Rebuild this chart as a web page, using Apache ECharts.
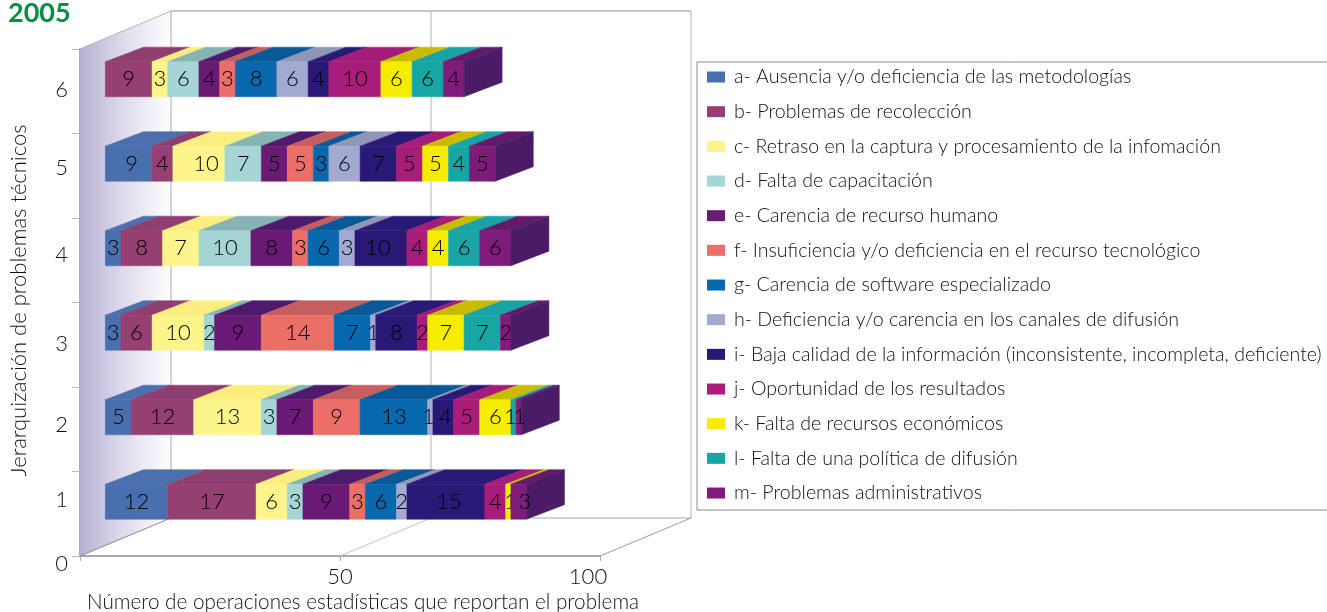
<!DOCTYPE html>
<html>
<head>
<meta charset="utf-8">
<title>Problemas técnicos 2005</title>
<script src="https://cdn.jsdelivr.net/npm/echarts@6/dist/echarts.min.js"></script>
<style>
html, body { margin: 0; padding: 0; background: #fff; }
#main { width: 1327px; height: 612px; }
</style>
</head>
<body>
<div id="main"></div>
<script>
var rows = [1, 2, 3, 4, 5, 6];
var problemas = [
	'a- Ausencia y/o deficiencia de las metodologías',
	'b- Problemas de recolección',
	'c- Retraso en la captura y procesamiento de la infomación',
	'd- Falta de capacitación',
	'e- Carencia de recurso humano',
	'f- Insuficiencia y/o deficiencia en el recurso tecnológico',
	'g- Carencia de software especializado',
	'h- Deficiencia y/o carencia en los canales de difusión',
	'i- Baja calidad de la información (inconsistente, incompleta, deficiente)',
	'j- Oportunidad de los resultados',
	'k- Falta de recursos económicos',
	'l- Falta de una política de difusión',
	'm- Problemas administrativos'
];
// valores por jerarquia 1..6
var serieA = [12, 5, 3, 3, 9, 0];
var serieB = [17, 12, 6, 8, 4, 9];
var serieC = [6, 13, 10, 7, 10, 3];
var serieD = [3, 3, 2, 10, 7, 6];
var serieE = [9, 7, 9, 8, 5, 4];
var serieF = [3, 9, 14, 3, 5, 3];
var serieG = [6, 13, 7, 6, 3, 8];
var serieH = [2, 1, 1, 3, 6, 6];
var serieI = [15, 4, 8, 10, 7, 4];
var serieJ = [4, 5, 2, 4, 5, 10];
var serieK = [1, 6, 7, 4, 5, 6];
var serieL = [0, 1, 7, 6, 4, 6];
var serieM = [3, 1, 2, 6, 5, 4];
var valores = [serieA, serieB, serieC, serieD, serieE, serieF, serieG, serieH, serieI, serieJ, serieK, serieL, serieM];

var xTicks = [0, 50, 100];
var frontColors = ['#4a6fae', '#963f73', '#fdf48b', '#a5d5d5', '#681a75', '#eb6f66', '#0768ae', '#a2aad2', '#2a1877', '#a81d7a', '#f6ec00', '#18a6a4', '#7f1b7b'];
var topColors = ['#4c70ad', '#8f3e70', '#fbee7f', '#87b3b2', '#4e1a6b', '#c45e5f', '#0a5897', '#8f96b8', '#2a1a78', '#a31d79', '#c9bc00', '#19a3a5', '#641a6a'];
var sideColor = '#4a1c68';

var fontName = 'Lato';
var textColor = '#111111';
var wallDx = 91, wallDy = -38;     // fondo de la caja 3d
var barDx = 25.3, barDy = -12;     // la barra no esta pegada al plano frontal
var barH = 35, depthX = 38, depthY = -14.6;
// las etiquetas del eje y no caen en los ticks (0..6)
var yLabelShift = [8, 28, 38, 41, 37, 34, 41];
// serie-jerarquia: etiquetas que en el original no estan centradas
var labelNudge = { '10-1': 2, '12-1': 6, '8-1': 3, '7-2': -2, '8-2': 2, '11-2': -3, '12-2': 1, '8-4': -3, '2-5': 7, '0-5': 3 };

function poly(points, fill) {
	return {
		type: 'polygon',
		silent: true,
		shape: { points: points },
		style: { fill: fill, stroke: fill, lineWidth: 0.5 }
	};
}

function line(a, b, color, w) {
	return {
		type: 'line',
		silent: true,
		shape: { x1: a[0], y1: a[1], x2: b[0], y2: b[1] },
		style: { stroke: color, lineWidth: w || 1 }
	};
}

function back(p) {
	return [p[0] + wallDx, p[1] + wallDy];
}

function renderWalls(params, api) {
	var o = api.coord([0, 0]);
	var t = api.coord([0, 6]);
	var m = api.coord([50, 0]);
	var e = api.coord([100, 0]);
	var grad = new echarts.graphic.LinearGradient(0, 0, 1, 0, [
		{ offset: 0, color: '#b6b0d4' },
		{ offset: 0.45, color: '#dcd9ea' },
		{ offset: 1, color: '#ffffff' }
	]);
	return {
		type: 'group',
		children: [
			poly([o, t, back(t), back(o)], grad),
			line(t, back(t), '#b5b5b5', 1),
			line(back(t), [back(e)[0], back(t)[1]], '#b5b5b5', 1.5),
			line(back(t), back(o), '#a8a8a8', 1),
			line([back(m)[0], back(t)[1]], back(m), '#b5b5b5', 1),
			line([back(e)[0], back(t)[1]], back(e), '#b5b5b5', 1),
			line(back(o), back(e), '#a8a8a8', 1),
			line(o, back(o), '#8a8a8a', 1),
			line(m, back(m), '#c4c4c4', 1),
			line(e, back(e), '#9a9a9a', 1)
		]
	};
}

function makeRenderBar(idx) {
	return function(params, api) {
		var a = api.coord([api.value(0), api.value(2)]);
		var b = api.coord([api.value(1), api.value(2)]);
		var x1 = a[0] + barDx, x2 = b[0] + barDx;
		var yTop = a[1] + barDy - barH / 2, yBot = a[1] + barDy + barH / 2;
		var nudge = labelNudge[idx + '-' + (api.value(2) + 0.5)] || 0;
		var children = [
			poly([[x1, yTop], [x1 + depthX, yTop + depthY], [x2 + depthX, yTop + depthY], [x2, yTop]], topColors[idx]),
			poly([[x1, yTop], [x2, yTop], [x2, yBot], [x1, yBot]], frontColors[idx])
		];
		if (idx === valores.length - 1) {
			children.push(poly([[x2, yTop], [x2 + depthX, yTop + depthY], [x2 + depthX, yBot + depthY], [x2, yBot]], sideColor));
		}
		children.push({
			type: 'text',
			silent: true,
			z2: 100,
			style: {
				x: (x1 + x2) / 2 + nudge,
				y: (yTop + yBot) / 2,
				text: String(api.value(3)),
				fill: '#000000',
				font: '300 22px ' + fontName,
				align: 'center',
				verticalAlign: 'middle'
			}
		});
		return { type: 'group', children: children };
	};
}

var series = [{
	type: 'custom',
	name: 'caja',
	silent: true,
	z: 1,
	renderItem: renderWalls,
	data: [[0, 0]],
	encode: { x: 0, y: 1 }
}];

var acumulado = rows.map(function() { return 0; });
valores.forEach(function(vals, idx) {
	var data = [];
	vals.forEach(function(v, r) {
		if (v > 0) {
			data.push([acumulado[r], acumulado[r] + v, rows[r] - 0.5, v]);
		}
		acumulado[r] += v;
	});
	series.push({
		type: 'custom',
		name: problemas[idx],
		silent: true,
		z: 2 + idx,
		itemStyle: { color: frontColors[idx] },
		renderItem: makeRenderBar(idx),
		data: data,
		encode: { x: [0, 1], y: 2 }
	});
});

var yRich = {};
yLabelShift.forEach(function(d, i) {
	yRich['s' + i] = { fontFamily: fontName, fontWeight: 300, fontSize: 22, color: textColor, padding: [2 * d, 0, 0, 0] };
});

var chart = echarts.init(document.getElementById('main'));
chart.setOption({
	animation: false,
	title: {
		text: '2005',
		left: 8,
		top: 0,
		padding: 0,
		textStyle: { fontFamily: fontName, fontWeight: 'bold', fontSize: 27, color: '#008f45' }
	},
	grid: { left: 80, top: 49, width: 520, height: 507, containLabel: false, outerBoundsMode: 'none' },
	xAxis: {
		type: 'value',
		min: 0,
		max: 100,
		interval: 50,
		name: 'Número de operaciones estadísticas que reportan el problema',
		nameLocation: 'middle',
		nameGap: 36,
		nameMoveOverlap: false,
		nameTextStyle: { fontFamily: fontName, fontWeight: 300, fontSize: 20.7, color: textColor, padding: [0, 0, 0, 46] },
		axisLine: { lineStyle: { color: '#aaaaaa', width: 2 } },
		axisTick: { length: 5, lineStyle: { color: '#aaaaaa', width: 1 } },
		splitLine: { show: false },
		axisLabel: {
			margin: 10,
			fontFamily: fontName,
			fontWeight: 300,
			fontSize: 22,
			color: textColor,
			formatter: function(v) {
				if (v === xTicks[0]) { return ''; }
				return v === xTicks[2] ? '{c|' + v + '}' : String(v);
			},
			rich: { c: { fontFamily: fontName, fontWeight: 300, fontSize: 22, color: textColor, padding: [0, 24, 0, 0] } }
		}
	},
	yAxis: {
		type: 'value',
		min: 0,
		max: 6,
		interval: 1,
		name: 'Jerarquización de problemas técnicos',
		nameLocation: 'middle',
		nameGap: 50,
		nameMoveOverlap: false,
		nameTextStyle: { fontFamily: fontName, fontWeight: 300, fontSize: 22, color: textColor, padding: [0, 0, 0, 4] },
		axisLine: { show: true, lineStyle: { color: '#aaaaaa', width: 2 } },
		axisTick: { show: true, length: 8, lineStyle: { color: '#bbbbbb', width: 1 } },
		splitLine: { show: false },
		axisLabel: {
			margin: 12,
			formatter: function(v) { return '{s' + v + '|' + v + '}'; },
			rich: yRich
		}
	},
	legend: {
		orient: 'vertical',
		left: 697,
		top: 62,
		padding: [5, 60, 7, 10],
		icon: 'rect',
		itemWidth: 18,
		itemHeight: 11,
		itemGap: 14.67,
		borderColor: '#8c8c8c',
		borderWidth: 1,
		data: problemas,
		selectedMode: false,
		textStyle: { fontFamily: fontName, fontWeight: 300, fontSize: 19.6, lineHeight: 20, color: textColor, padding: [0, 0, 0, 4] }
	},
	series: series
});
</script>
</body>
</html>
